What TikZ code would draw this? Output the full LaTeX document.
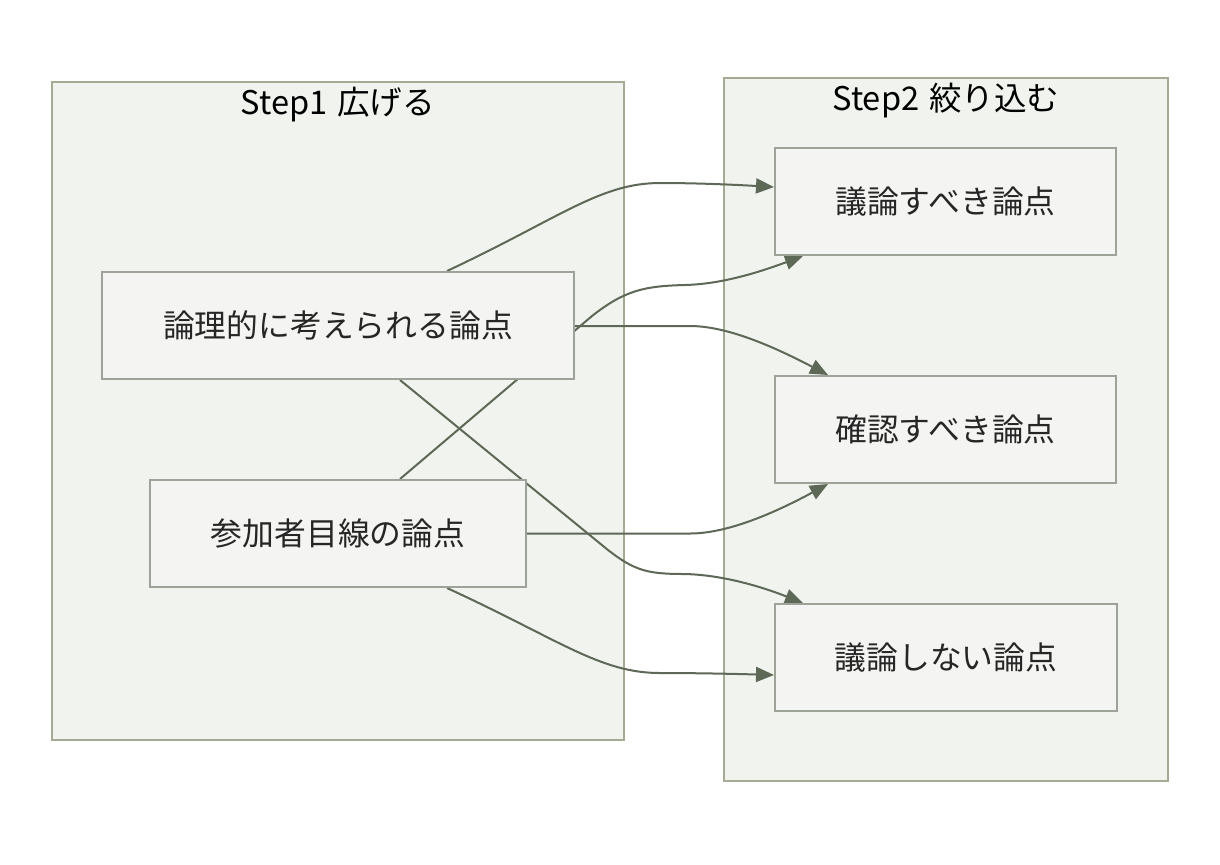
\documentclass[tikz,border=0pt]{standalone}
\usepackage{fontspec}
\setmainfont{Noto Sans CJK JP}
\usepackage{tikz}
\usetikzlibrary{arrows.meta,calc}
\definecolor{clfill}{HTML}{F1F4EE}
\definecolor{clline}{HTML}{A5AA95}
\definecolor{nodefill}{HTML}{F4F4F2}
\definecolor{nodeline}{HTML}{9DA399}
\definecolor{edgecol}{HTML}{5D6857}
\definecolor{txt}{HTML}{262626}
\pgfdeclarelayer{bg}
\pgfdeclarelayer{edges}
\pgfsetlayers{bg,edges,main}

\begin{document}
\begin{tikzpicture}[x=0.5pt,y=-0.5pt,
	cluster/.style={draw=clline,fill=clfill,line width=1pt},
	title/.style={text=black,font=\fontsize{16.3}{19}\selectfont},
	box/.style={draw=nodeline,fill=nodefill,line width=1pt,inner sep=0pt,minimum height=53.5pt,text=txt,font=\fontsize{15.9}{18}\selectfont},
	link/.style={draw=edgecol,line width=1pt,-{Triangle[length=9pt,width=7.5pt]}}]
					\useasboundingbox (0,0) rectangle (1220,864);
					
					% Step1
					\node[box,minimum width=236pt] (logic) at (338,325.5) {論理的に考えられる論点};
					\node[box,minimum width=188pt] (user) at (338,533.5) {参加者目線の論点};
					
					% Step2
					\node[box,minimum width=170.5pt] (discuss) at (945.5,201.5) {議論すべき論点};
					\node[box,minimum width=170.5pt] (confirm) at (945.5,429.5) {確認すべき論点};
					\node[box,minimum width=171pt] (skip) at (946,657.5) {議論しない論点};
					
					\begin{pgfonlayer}{bg}
					\fill[white] (0,0) rectangle (1220,864);
					\draw[cluster] (52,82) rectangle (624,740);
					\draw[cluster] (724,78) rectangle (1168,781);
					\end{pgfonlayer}
					\node[title] (step1) at (338,105) {Step1\hspace{0.3em}広げる};
					\node[title] (step2) at (946,101) {Step2\hspace{0.3em}絞り込む};
					
					\begin{pgfonlayer}{edges}
					\draw[link] ($(logic.north)+(109,0)$) .. controls (560,218) and (600,183) .. (660,183)
						.. controls (700,183) and (740,185) .. ($(discuss.west)+(0,-14.5)$);
					\draw[link] ($(user.north)+(62,0)$) -- (592,316) .. controls (625,290) and (645,286) .. (685,285)
						.. controls (725,284) and (765,270) .. ($(discuss.south)+(-142.5,0)$);
					\draw[link] ($(logic.east)+(0,0.5)$) -- (690,326) .. controls (730,326) and (780,350) .. ($(confirm.north)+(-117.5,0)$);
					\draw[link] ($(logic.south)+(62,0)$) -- (608,550) .. controls (635,571) and (648,574) .. (685,574)
						.. controls (725,575) and (765,588) .. ($(skip.north)+(-143,0)$);
					\draw[link] (user.east) -- (690,533.5) .. controls (730,533.5) and (780,510) .. ($(confirm.south)+(-117.5,0)$);
					\draw[link] ($(user.south)+(109,0)$) .. controls (560,640) and (600,673) .. (660,673)
						.. controls (700,673) and (740,674) .. ($(skip.west)+(0,17.5)$);
					\end{pgfonlayer}
				\end{tikzpicture}
\end{document}
